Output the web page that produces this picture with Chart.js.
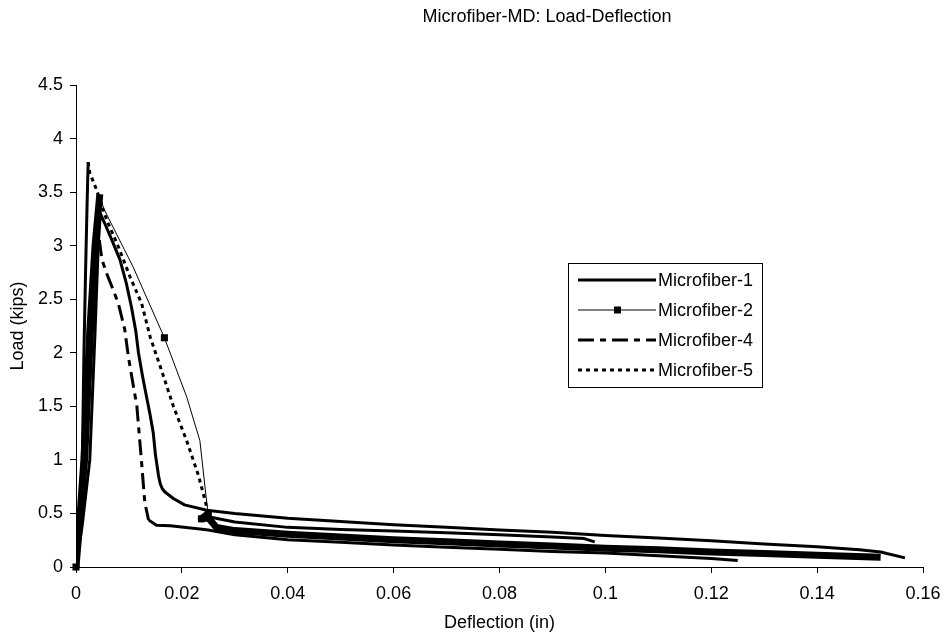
<!DOCTYPE html>
<html lang="en">

<head>
    <meta charset="UTF-8">
    <title>Microfiber-MD: Load-Deflection</title>
    <style>
        body {
            margin: 0;
            background: #fff;
        }

        #chart-container {
            width: 943px;
            height: 638px;
        }
    </style>
</head>

<body>
    <div id="chart-container">
        <canvas id="chart" width="943" height="638"></canvas>
    </div>

    <script src="https://cdn.jsdelivr.net/npm/chart.js"></script>
    <script>
        // Series names and tick labels
        const seriesNames = ['Microfiber-1', 'Microfiber-2', 'Microfiber-4', 'Microfiber-5'];
        const xTicks = [0, 0.02, 0.04, 0.06, 0.08, 0.1, 0.12, 0.14, 0.16];
        const xTickLabels = ['0', '0.02', '0.04', '0.06', '0.08', '0.1', '0.12', '0.14', '0.16'];
        const yTicks = [0, 0.5, 1, 1.5, 2, 2.5, 3, 3.5, 4, 4.5];
        const yTickLabels = ['0', '0.5', '1', '1.5', '2', '2.5', '3', '3.5', '4', '4.5'];

        // Microfiber-1 (deflection in, load kips)
        const m1Defl = [0, 0.0012, 0.0026, 0.0036, 0.0042, 0.0046, 0.0055, 0.0068, 0.0083, 0.0095, 0.0105, 0.0113, 0.0118, 0.0125, 0.0132, 0.014, 0.0146, 0.015, 0.0153, 0.0156, 0.0159, 0.0163, 0.0168, 0.0176, 0.0184, 0.0205, 0.0247, 0.03, 0.04, 0.05, 0.06, 0.07, 0.08, 0.09, 0.1, 0.11, 0.12, 0.13, 0.14, 0.148, 0.152, 0.1566];
        const m1Load = [0, 0.4, 1.0, 2.2, 3.0, 3.3, 3.2, 3.05, 2.87, 2.65, 2.42, 2.2, 2.0, 1.8, 1.62, 1.42, 1.25, 1.05, 0.95, 0.85, 0.78, 0.73, 0.7, 0.67, 0.64, 0.58, 0.53, 0.5, 0.455, 0.425, 0.395, 0.37, 0.345, 0.325, 0.295, 0.27, 0.245, 0.215, 0.19, 0.16, 0.14, 0.085];

        // Microfiber-2
        const m2Defl = [0, 0.0005, 0.0015, 0.0026, 0.0036, 0.0045, 0.0052, 0.0108, 0.0167, 0.0209, 0.0234, 0.0247, 0.025, 0.0237, 0.025, 0.0265, 0.03, 0.04, 0.05, 0.06, 0.07, 0.08, 0.09, 0.1, 0.11, 0.12, 0.13, 0.14, 0.152];
        const m2Load = [0, 0.3, 1.0, 2.2, 3.0, 3.48, 3.35, 2.8, 2.14, 1.59, 1.18, 0.6, 0.5, 0.45, 0.46, 0.37, 0.34, 0.305, 0.28, 0.255, 0.235, 0.215, 0.195, 0.175, 0.16, 0.14, 0.125, 0.11, 0.09];
        // Microfiber-2 markers that stand out on their own
        const m2MarkDefl = [0, 0.0167, 0.0237, 0.025];
        const m2MarkLoad = [0, 2.14, 0.45, 0.5];

        // Microfiber-4
        const m4Defl = [0, 0.0009, 0.002, 0.0031, 0.0039, 0.0044, 0.0049, 0.0058, 0.007, 0.008, 0.0092, 0.0099, 0.0115, 0.0124, 0.013, 0.0137, 0.0152, 0.0178, 0.0234, 0.025, 0.03, 0.04, 0.05, 0.06, 0.07, 0.08, 0.09, 0.1, 0.11, 0.12, 0.125];
        const m4Load = [0, 0.4, 1.0, 2.2, 2.9, 3.05, 2.87, 2.74, 2.59, 2.46, 2.22, 1.96, 1.5, 0.97, 0.6, 0.44, 0.39, 0.385, 0.355, 0.345, 0.3, 0.255, 0.23, 0.205, 0.185, 0.165, 0.145, 0.13, 0.105, 0.08, 0.06];

        // Microfiber-5
        const m5Defl = [0, 0.0006, 0.0012, 0.0015, 0.0018, 0.0021, 0.0023, 0.0026, 0.0039, 0.0058, 0.008, 0.0102, 0.0124, 0.014, 0.0164, 0.0184, 0.0209, 0.0231, 0.0245, 0.025, 0.03, 0.04, 0.05, 0.06, 0.07, 0.08, 0.09, 0.096, 0.098];
        const m5Load = [0, 0.5, 1.0, 2.0, 2.74, 3.4, 3.78, 3.68, 3.52, 3.24, 2.99, 2.71, 2.46, 2.15, 1.8, 1.5, 1.18, 0.86, 0.6, 0.47, 0.42, 0.37, 0.35, 0.335, 0.32, 0.3, 0.28, 0.265, 0.235];

        const toPoints = (xs, ys) => xs.map((x, i) => ({ x: x, y: ys[i] }));

        // Excel draws dense data as solid: loading ramp and residual tail
        const isDense = ctx => ctx.p1.parsed.y > ctx.p0.parsed.y + 0.05 ||
            (ctx.p0.parsed.y < 0.6 && ctx.p1.parsed.y < 0.6);

        const dash4 = [16, 6, 6, 6];
        const dash5 = [4, 4];

        const FONT = "'Liberation Sans', Arial, sans-serif";
        Chart.defaults.font.family = FONT;
        Chart.defaults.font.size = 18;
        Chart.defaults.color = '#000';

        const lineDefaults = {
            showLine: true,
            pointRadius: 0,
            borderColor: '#000',
            backgroundColor: '#000',
            fill: false,
            tension: 0,
            borderCapStyle: 'butt',
            borderJoinStyle: 'round'
        };

        // Legend box and chart title drawn over the plot
        const overlay = {
            id: 'overlay',
            afterDraw(chart) {
                const ctx = chart.ctx;
                ctx.save();

                // title
                ctx.fillStyle = '#000';
                ctx.font = '18px ' + FONT;
                ctx.textAlign = 'center';
                ctx.textBaseline = 'middle';
                ctx.fillText('Microfiber-MD: Load-Deflection', 547, 17);

                // legend
                const bx = 568, by = 263, bw = 194, bh = 124;
                ctx.fillStyle = '#fff';
                ctx.fillRect(bx, by, bw, bh);
                ctx.strokeStyle = '#000';
                ctx.lineWidth = 1;
                ctx.setLineDash([]);
                ctx.strokeRect(bx + 0.5, by + 0.5, bw, bh);

                const styles = [
                    { w: 3, dash: [] },
                    { w: 1, dash: [], marker: true },
                    { w: 3, dash: dash4 },
                    { w: 3, dash: dash5 }
                ];
                seriesNames.forEach((name, i) => {
                    const y = 280 + i * 30;
                    const s = styles[i];
                    ctx.beginPath();
                    ctx.lineWidth = s.w;
                    ctx.setLineDash(s.dash);
                    ctx.moveTo(578, y);
                    ctx.lineTo(656, y);
                    ctx.stroke();
                    ctx.setLineDash([]);
                    if (s.marker) {
                        ctx.fillStyle = '#000';
                        ctx.fillRect(614, y - 3.5, 7, 7);
                    }
                    ctx.fillStyle = '#000';
                    ctx.textAlign = 'left';
                    ctx.textBaseline = 'middle';
                    ctx.fillText(name, 658, y + 1);
                });
                ctx.restore();
            }
        };

        const ctx = document.getElementById('chart').getContext('2d');
        const chart = new Chart(ctx, {
            type: 'scatter',
            data: {
                datasets: [
                    Object.assign({}, lineDefaults, {
                        label: seriesNames[0],
                        data: toPoints(m1Defl, m1Load),
                        borderWidth: 3
                    }),
                    Object.assign({}, lineDefaults, {
                        label: seriesNames[1],
                        data: toPoints(m2Defl, m2Load),
                        borderWidth: 1,
                        segment: {
                            borderWidth: ctx => isDense(ctx) ? 7 : 1
                        }
                    }),
                    {
                        label: seriesNames[1] + ' markers',
                        data: toPoints(m2MarkDefl, m2MarkLoad),
                        showLine: false,
                        pointStyle: 'rect',
                        pointRadius: 5,
                        backgroundColor: '#000',
                        borderColor: '#000',
                        borderWidth: 0,
                        clip: false
                    },
                    Object.assign({}, lineDefaults, {
                        label: seriesNames[2],
                        data: toPoints(m4Defl, m4Load),
                        borderWidth: 3,
                        segment: {
                            borderDash: ctx => isDense(ctx) ? [] : dash4
                        }
                    }),
                    Object.assign({}, lineDefaults, {
                        label: seriesNames[3],
                        data: toPoints(m5Defl, m5Load),
                        borderWidth: 3,
                        segment: {
                            borderDash: ctx => isDense(ctx) ? [] : dash5
                        }
                    })
                ]
            },
            options: {
                responsive: false,
                animation: false,
                layout: {
                    padding: { top: 85, right: 20, left: 0, bottom: 0 }
                },
                plugins: {
                    legend: { display: false },
                    title: { display: false },
                    tooltip: { enabled: false }
                },
                scales: {
                    x: {
                        type: 'linear',
                        min: 0,
                        max: 0.16,
                        afterBuildTicks: axis => { axis.ticks = xTicks.map(v => ({ value: v })); },
                        afterFit: axis => {
                            axis.height = 71;
                            axis.paddingLeft = 0;
                            axis.paddingRight = 0;
                        },
                        ticks: {
                            autoSkip: false,
                            maxRotation: 0,
                            padding: 10,
                            callback: (v, i) => xTickLabels[i]
                        },
                        grid: {
                            drawOnChartArea: false,
                            tickLength: 6,
                            tickColor: '#000'
                        },
                        border: { color: '#000', width: 1 },
                        title: {
                            display: true,
                            text: 'Deflection (in)',
                            padding: { top: 0, bottom: 4 }
                        }
                    },
                    y: {
                        type: 'linear',
                        min: 0,
                        max: 4.5,
                        afterBuildTicks: axis => { axis.ticks = yTicks.map(v => ({ value: v })); },
                        afterFit: axis => {
                            axis.width = 76;
                            axis.paddingTop = 0;
                            axis.paddingBottom = 0;
                        },
                        ticks: {
                            autoSkip: false,
                            padding: 7,
                            callback: (v, i) => yTickLabels[i]
                        },
                        grid: {
                            drawOnChartArea: false,
                            tickLength: 6,
                            tickColor: '#000'
                        },
                        border: { color: '#000', width: 1 },
                        title: {
                            display: true,
                            text: 'Load (kips)',
                            padding: { top: 7, bottom: 0 }
                        }
                    }
                }
            },
            plugins: [overlay]
        });
    </script>
</body>

</html>
